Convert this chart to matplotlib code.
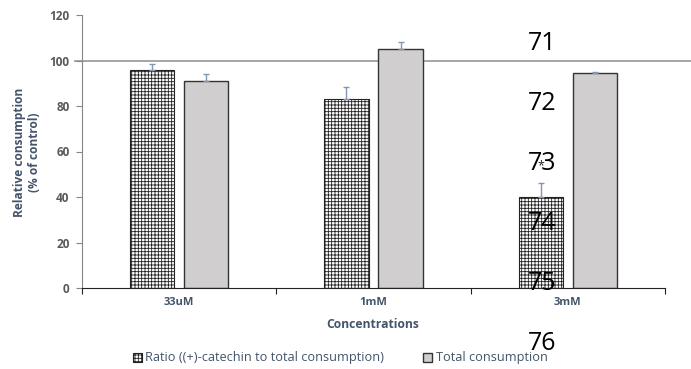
import numpy as np
import matplotlib
matplotlib.use("Agg")
import matplotlib.pyplot as plt

concentrations = ["33uM", "1mM", "3mM"]
ratio_vals = [96.0, 83.0, 40.0]
ratio_err = [2.5, 5.5, 6.0]
total_vals = [91.0, 105.0, 94.6]
total_err = [3.0, 3.0, 0.4]
margin_numbers = ["71", "72", "73", "74", "75", "76"]

label_col = "#44546a"
plt.rcParams["font.family"] = ["Open Sans", "DejaVu Sans"]
plt.rcParams["hatch.linewidth"] = 0.6

fig = plt.figure(figsize=(6.91, 3.69), dpi=100)
ax = fig.add_axes([82 / 691, 1 - 288 / 369, (665 - 82) / 691, (288 - 15) / 369])

x = np.arange(len(concentrations))
w = 0.227
off = 0.139
ax.bar(x - off, ratio_vals, w, color="white", edgecolor="#222222", hatch="+++++",
       linewidth=0.8, label="Ratio ((+)-catechin to total consumption)", zorder=2)
ax.bar(x + off, total_vals, w, color="#d0cece", edgecolor="#333333",
       linewidth=1.0, label="Total consumption", zorder=2)
ax.errorbar(x - off, ratio_vals, yerr=[np.zeros(3), ratio_err], fmt="none",
            ecolor="#8496b0", elinewidth=1, capsize=2.5, zorder=3)
ax.errorbar(x + off, total_vals, yerr=[np.zeros(3), total_err], fmt="none",
            ecolor="#8496b0", elinewidth=1, capsize=2.5, zorder=3)

# control level line at 100 %
ax.plot([-0.535, 2.65], [100, 100], color="#a6a6a6", linewidth=1.4,
        clip_on=False, zorder=1)

ax.set_xlim(-0.5, 2.5)
ax.set_ylim(0, 120)
ax.set_yticks(range(0, 121, 20))
ax.set_xticks([-0.5, 0.5, 1.5, 2.5])
ax.set_xticklabels([])
ax.tick_params(axis="x", direction="out", length=4, color="#222222")
ax.tick_params(axis="y", direction="out", length=4, color="#868686",
               labelcolor="#595959", labelsize=8.5, pad=5)
for lab in ax.get_yticklabels():
    lab.set_fontweight("bold")
for i, c in enumerate(concentrations):
    ax.text(i, -6.5, c, ha="center", va="center", fontsize=8, fontweight="bold",
            color=label_col)

ax.spines["top"].set_visible(False)
ax.spines["right"].set_visible(False)
ax.spines["left"].set_color("#868686")
ax.spines["bottom"].set_color("#222222")

fig.text(373 / 691, 1 - 324 / 369, "Concentrations", ha="center", va="center",
         fontsize=8.7, fontweight="bold", color=label_col)
fig.text(27 / 691, 1 - 152 / 369, "Relative consumption\n(% of control)",
         ha="center", va="center", rotation=90, fontsize=8.6, fontweight="bold",
         color=label_col, linespacing=1.15)

ax.text(2 - off, 53.5, "*", ha="center", va="center", fontsize=9, color="#222222")

leg = fig.legend(loc="center", bbox_to_anchor=(340 / 691, 1 - 358 / 369), ncol=2,
                 frameon=False, fontsize=9.2, handlelength=0.7, handleheight=0.7,
                 handletextpad=0.3, columnspacing=3.0)
for t in leg.get_texts():
    t.set_color(label_col)

for k, s in enumerate(margin_numbers):
    fig.text(542 / 691, 1 - (44 + 60 * k) / 369, s, ha="center", va="center",
             fontsize=18, color="black")

fig.savefig("out.png", dpi=100)
